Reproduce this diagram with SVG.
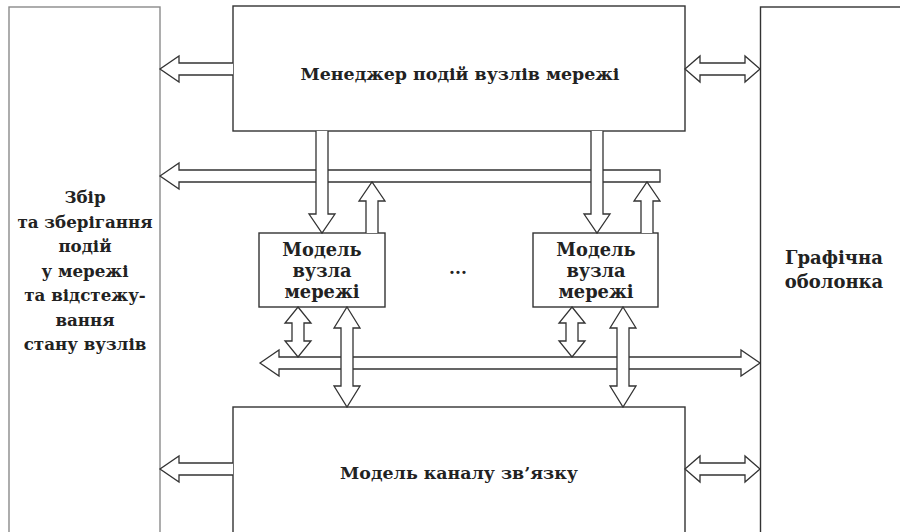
<svg xmlns="http://www.w3.org/2000/svg" width="900" height="532" viewBox="0 0 900 532">
<style>
.box{fill:#fff;stroke:#333;stroke-width:1.4}
.side{fill:#fff;stroke:#8a8a8a;stroke-width:1.4}
.arr{fill:#fff;stroke:#333;stroke-width:1.3;stroke-linejoin:miter}
.t{font-family:"DejaVu Serif","Liberation Serif",serif;font-weight:bold;fill:#222;text-anchor:middle}
</style>
<rect width="900" height="532" fill="#fff"/>
<g id="collector">
<rect class="side" x="9" y="7" width="151" height="540"/>
<text class="t" font-size="16.7"><tspan x="85" y="203">Збір</tspan><tspan x="85" y="228">та зберігання</tspan><tspan x="85" y="252">подій</tspan><tspan x="85" y="277">у мережі</tspan><tspan x="85" y="301">та відстежу-</tspan><tspan x="85" y="326">вання</tspan><tspan x="85" y="350">стану вузлів</tspan></text>
</g>
<g id="gui">
<rect class="box" x="760.5" y="7" width="150" height="540"/>
<text class="t" font-size="18"><tspan x="834" y="264">Графічна</tspan><tspan x="834" y="288">оболонка</tspan></text>
</g>
<g id="manager">
<rect class="box" x="233" y="6" width="452" height="125"/>
<text class="t" font-size="17.4" x="460" y="80">Менеджер подій вузлів мережі</text>
</g>
<g id="node1">
<rect class="box" x="259" y="233" width="126" height="74"/>
<text class="t" font-size="17.8"><tspan x="322" y="256">Модель</tspan><tspan x="322" y="277">вузла</tspan><tspan x="322" y="298">мережі</tspan></text>
</g>
<g id="node2">
<rect class="box" x="533" y="233" width="125" height="74"/>
<text class="t" font-size="17.8"><tspan x="596" y="256">Модель</tspan><tspan x="596" y="277">вузла</tspan><tspan x="596" y="298">мережі</tspan></text>
</g>
<g id="dots">
<text class="t" font-size="17" x="458" y="274">...</text>
</g>
<g id="channel">
<rect class="box" x="233" y="407" width="452" height="140"/>
<text class="t" font-size="17.4" x="459" y="479">Модель каналу зв’язку</text>
</g>
<g id="connectors">
<path class="arr" d="M233,63 H179 V56 L160,69 L179,82 V75 H233"/>
<path class="arr" d="M685,69 L700,56 V63 H745 V56 L760,69 L745,82 V75 H700 V82 Z"/>
<path class="arr" d="M160,176 L179,163 V170 H660 V182 H179 V189 Z"/>
<path class="arr" d="M316,131 V214 H309 L322,233 L335,214 H328 V131"/>
<path class="arr" d="M591,131 V214 H584 L597,233 L610,214 H603 V131"/>
<path class="arr" d="M366,233 V201 H359 L372,182 L385,201 H378 V233"/>
<path class="arr" d="M641,233 V201 H634 L647,182 L660,201 H653 V233"/>
<path class="arr" d="M260,363 L279,350 V357 H741 V350 L760,363 L741,376 V369 H279 V376 Z"/>
<path class="arr" d="M298,307 L311,323 H304 V341 H311 L298,357 L285,341 H292 V323 H285 Z"/>
<path class="arr" d="M572,307 L585,323 H578 V341 H585 L572,357 L559,341 H566 V323 H559 Z"/>
<path class="arr" d="M347,307 L360,328 H353 V386 H360 L347,407 L334,386 H341 V328 H334 Z"/>
<path class="arr" d="M623,307 L636,328 H629 V386 H636 L623,407 L610,386 H617 V328 H610 Z"/>
<path class="arr" d="M233,463 H179 V456 L160,469 L179,482 V475 H233"/>
<path class="arr" d="M685,469 L700,456 V463 H745 V456 L760,469 L745,482 V475 H700 V482 Z"/>
</g>
</svg>
